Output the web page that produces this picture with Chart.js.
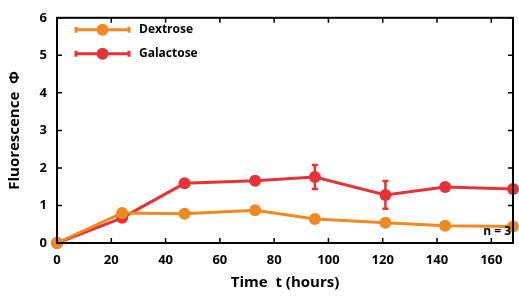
<!DOCTYPE html>
<html><head><meta charset="utf-8">
<script src="https://cdn.jsdelivr.net/npm/chart.js@4/dist/chart.umd.min.js"></script>
<style>html,body{margin:0;padding:0;background:#fff}#w{width:519px;height:296px}</style>
</head><body><div id="w"><canvas id="c" width="519" height="296"></canvas></div>
<script>
const times = [0, 24, 47, 73, 95, 121, 143, 168];
const dextrose = [0, 0.80, 0.78, 0.87, 0.64, 0.54, 0.46, 0.44];
const dextroseErr = [0.03, 0.05, 0.04, 0.05, 0.04, 0.04, 0.04, 0.04];
const galactose = [0, 0.67, 1.59, 1.66, 1.76, 1.28, 1.49, 1.44];
const galactoseErr = [0.03, 0.06, 0.08, 0.06, 0.32, 0.37, 0.07, 0.06];
const xTicks = [0, 20, 40, 60, 80, 100, 120, 140, 160];
const yTicks = [0, 1, 2, 3, 4, 5, 6];
const seriesNames = ['Dextrose', 'Galactose'];
const colors = ['#EF8A22', '#E53238'];
const FONT = '"Open Sans", "DejaVu Sans", sans-serif';

const errs = [dextroseErr, galactoseErr];
const pts = a => times.map((t, i) => ({x: t, y: a[i]}));

const decor = {
  id: 'decor',
  beforeDatasetsDraw(chart) {
    const {ctx, scales: {x, y}} = chart;
    ctx.save();
    chart.data.datasets.forEach((ds, di) => {
      ctx.strokeStyle = ds.borderColor; ctx.lineWidth = 2.5;
      ds.data.forEach((p, i) => {
        const e = errs[di][i];
        const px = x.getPixelForValue(p.x);
        const y1 = y.getPixelForValue(p.y + e), y2 = y.getPixelForValue(p.y - e);
        ctx.beginPath();
        ctx.moveTo(px, y1); ctx.lineTo(px, y2);
        ctx.moveTo(px - 3, y1); ctx.lineTo(px + 3, y1);
        ctx.moveTo(px - 3, y2); ctx.lineTo(px + 3, y2);
        ctx.stroke();
      });
    });
    ctx.restore();
  },
  afterDraw(chart) {
    const {ctx, chartArea: a, scales: {x, y}} = chart;
    ctx.save();
    ctx.strokeStyle = '#000'; ctx.lineWidth = 2;
    ctx.strokeRect(a.left, a.top, a.right - a.left, a.bottom - a.top);
    ctx.lineWidth = 1.5;
    ctx.beginPath();
    xTicks.forEach(v => {
      const px = x.getPixelForValue(v);
      ctx.moveTo(px, a.bottom); ctx.lineTo(px, a.bottom - 5);
      ctx.moveTo(px, a.top); ctx.lineTo(px, a.top + 5);
    });
    yTicks.forEach(v => {
      const py = y.getPixelForValue(v);
      ctx.moveTo(a.left, py); ctx.lineTo(a.left + 5, py);
      ctx.moveTo(a.right, py); ctx.lineTo(a.right - 5, py);
    });
    ctx.stroke();
    // legend
    seriesNames.forEach((n, i) => {
      const ly = a.top + 12 + i * 24;
      const x0 = a.left + 19, x1 = a.left + 72, xm = (x0 + x1) / 2;
      ctx.strokeStyle = colors[i]; ctx.lineWidth = 3;
      ctx.beginPath(); ctx.moveTo(x0, ly); ctx.lineTo(x1, ly);
      ctx.moveTo(x0, ly - 3); ctx.lineTo(x0, ly + 3);
      ctx.moveTo(x1, ly - 3); ctx.lineTo(x1, ly + 3);
      ctx.stroke();
      ctx.fillStyle = colors[i];
      ctx.beginPath(); ctx.arc(xm, ly, 6, 0, Math.PI * 2); ctx.fill();
      ctx.fillStyle = '#000'; ctx.font = '700 12px ' + FONT;
      ctx.textBaseline = 'middle'; ctx.textAlign = 'left';
      ctx.fillText(n, x1 + 10, ly);
    });
    ctx.font = '700 12px ' + FONT; ctx.textAlign = 'right'; ctx.textBaseline = 'middle';
    ctx.fillStyle = '#000';
    ctx.fillText('n = 3', a.right - 2, a.bottom - 11);
    ctx.restore();
  }
};

new Chart(document.getElementById('c'), {
  type: 'line',
  data: {
    datasets: seriesNames.map((n, i) => ({
      label: n,
      data: pts(i === 0 ? dextrose : galactose),
      borderColor: colors[i],
      backgroundColor: colors[i],
      borderWidth: 3,
      pointRadius: 6,
      pointHoverRadius: 6,
      pointBorderWidth: 0,
      tension: 0,
      clip: false
    }))
  },
  options: {
    responsive: false,
    animation: false,
    events: [],
    layout: {padding: {top: 13, right: 2, left: 0, bottom: 0}},
    plugins: {legend: {display: false}, tooltip: {enabled: false}},
    scales: {
      x: {
        type: 'linear', min: 0, max: 168,
        afterBuildTicks: s => { s.ticks = xTicks.map(v => ({value: v})); },
        afterFit: s => { s.height = 53; },
        grid: {display: false, drawTicks: false},
        border: {display: false},
        ticks: {color: '#000', padding: 9, font: {family: FONT, size: 13, weight: '700'}, maxRotation: 0},
        title: {display: true, text: 'Time  t (hours)', color: '#000', padding: {top: 4}, font: {family: FONT, size: 15, weight: '700'}}
      },
      y: {
        type: 'linear', min: 0, max: 6,
        afterBuildTicks: s => { s.ticks = yTicks.map(v => ({value: v})); },
        afterFit: s => { s.width = 57; },
        grid: {display: false, drawTicks: false},
        border: {display: false},
        ticks: {color: '#000', padding: 10, font: {family: FONT, size: 13, weight: '700'}},
        title: {display: true, text: 'Fluorescence  Φ', color: '#000', padding: {top: 6, bottom: 4}, font: {family: FONT, size: 15, weight: '700'}}
      }
    }
  },
  plugins: [decor]
});
</script></body></html>
